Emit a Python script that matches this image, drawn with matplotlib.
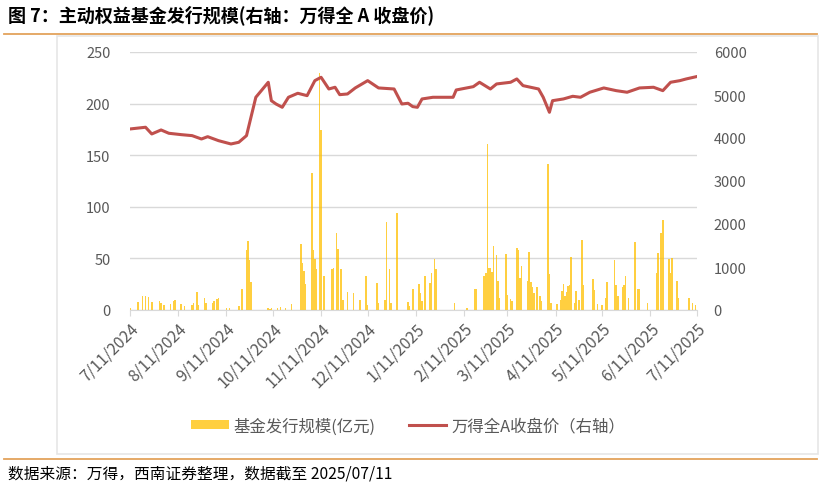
import numpy as np
import matplotlib
matplotlib.use("Agg")
import matplotlib.pyplot as plt
from matplotlib.patches import Rectangle
from matplotlib.lines import Line2D

plt.rcParams['font.family'] = ['Noto Sans CJK SC', 'DejaVu Sans']

start = np.datetime64('2024-07-11')

# 万得全A收盘价（右轴）: 距 2024-07-11 的天数, 点位
px_day = [0, 10, 14, 20, 25, 33, 40, 46, 50, 57, 65, 70, 75, 81, 89, 91, 94, 98, 102, 108,
          114, 119, 123, 128, 132, 135, 140, 145, 153, 160, 170, 175, 179, 182, 185, 188, 195,
          208, 210, 221, 225, 232, 236, 245, 249, 253, 263, 266, 270, 272, 279, 285, 290, 296,
          305, 313, 320, 328, 337, 343, 348, 354, 358, 365]
px_val = [4210, 4250, 4094, 4187, 4110, 4078, 4055, 3977, 4031, 3938, 3861, 3900, 4055, 4947,
          5296, 4868, 4791, 4714, 4947, 5040, 4985, 5334, 5412, 5140, 5180, 5008, 5024, 5164,
          5334, 5164, 5140, 4791, 4808, 4730, 4714, 4908, 4947, 4947, 5117, 5194, 5296, 5140,
          5257, 5296, 5373, 5218, 5140, 4947, 4598, 4868, 4908, 4970, 4947, 5064, 5164, 5101,
          5064, 5164, 5180, 5101, 5296, 5334, 5373, 5430]

# 基金发行规模(亿元): 距 2024-07-11 的天数, 规模
bar_day = [0, 5, 8, 10, 12, 14, 19, 20, 22, 26, 28, 29, 33, 35, 40, 41, 43, 44, 48, 49, 53, 54,
           56, 57, 62, 64, 70, 72, 75, 76, 77, 78, 89, 90, 91, 95, 97, 100, 104, 110, 111, 112,
           113, 117, 118, 119, 120, 122, 123, 125, 130, 131, 133, 134, 136, 137, 140, 144, 148,
           152, 153, 159, 160, 164, 165, 167, 168, 172, 179, 180, 182, 186, 187, 188, 190, 193,
           194, 196, 197, 209, 217, 222, 223, 228, 229, 230, 231, 232, 233, 234, 236, 237, 238,
           242, 243, 245, 246, 249, 250, 251, 252, 256, 257, 258, 259, 260, 262, 264, 265, 269,
           270, 271, 275, 277, 278, 279, 280, 281, 282, 283, 284, 286, 287, 289, 291, 292, 298,
           299, 301, 304, 306, 307, 312, 313, 314, 317, 318, 319, 321, 325, 327, 328, 333, 339,
           340, 342, 343, 347, 348, 349, 352, 353, 360, 362, 364]
bar_val = [2, 8, 14, 14, 13, 8, 9, 7, 5, 6, 9, 10, 6, 4, 5, 7, 17, 5, 12, 7, 7, 9,
           11, 12, 2, 2, 4, 20, 58, 67, 48, 27, 2, 1, 2, 2, 3, 2, 6, 64, 46, 38,
           25, 133, 58, 49, 40, 230, 174, 33, 40, 41, 75, 59, 40, 10, 17, 16, 10,
           33, 5, 26, 7, 10, 85, 40, 7, 94, 8, 4, 20, 25, 16, 9, 33, 26,
           36, 49, 40, 7, 2, 20, 20, 33, 36, 161, 41, 41, 37, 62, 53, 28, 12,
           54, 15, 11, 9, 60, 58, 31, 43, 28, 56, 27, 22, 16, 22, 14, 9, 141,
           35, 7, 6, 10, 18, 25, 14, 17, 23, 24, 51, 7, 18, 10, 68, 24, 30,
           19, 6, 5, 12, 27, 48, 24, 14, 22, 24, 33, 12, 66, 20, 20, 7, 36,
           55, 75, 87, 49, 36, 50, 28, 12, 12, 7, 5]

tick_labels = ['7/11/2024', '8/11/2024', '9/11/2024', '10/11/2024', '11/11/2024', '12/11/2024',
               '1/11/2025', '2/11/2025', '3/11/2025', '4/11/2025', '5/11/2025', '6/11/2025',
               '7/11/2025']

gray = '#595959'
grid = '#D9D9D9'
bar_color = '#FFC000'
line_color = '#C0504D'
rule = '#E3A25C'

fig = plt.figure(figsize=(8.21, 4.89), dpi=100)
W, H = 821, 489

def fx(px):
    return px / W

def fy(py):
    return 1 - py / H

# 外框 / 标题 / 分隔线
fig.add_artist(Rectangle((fx(57), fy(455)), fx(818) - fx(57), fy(37) - fy(455),
                         transform=fig.transFigure, fill=False, edgecolor='#E6E6E6', lw=1.2))
fig.add_artist(Line2D([fx(4), fx(817)], [fy(35), fy(35)], transform=fig.transFigure,
                      color=rule, lw=1.3))
fig.add_artist(Line2D([fx(4), fx(817)], [fy(460), fy(460)], transform=fig.transFigure,
                      color=rule, lw=1.3))
fig.text(fx(8), fy(15), '图 7：主动权益基金发行规模(右轴：万得全 A 收盘价)', fontsize=13,
         fontweight='bold', va='center', ha='left', color='black')
fig.text(fx(8), fy(474), '数据来源：万得，西南证券整理，数据截至 2025/07/11', fontsize=11.3,
         style='italic', va='center', ha='left', color='black')

ax = fig.add_axes([fx(130), fy(311), fx(697) - fx(130), fy(53) - fy(311)])
ax2 = ax.twinx()

bar_dates = start + np.array(bar_day).astype('timedelta64[D]')
px_dates = start + np.array(px_day).astype('timedelta64[D]')

ax.bar(bar_dates, bar_val, width=1.0, color=bar_color, alpha=0.75, linewidth=0,
       label='基金发行规模(亿元)', zorder=2)
ax2.plot(px_dates, px_val, color=line_color, lw=2.2, label='万得全A收盘价（右轴）', zorder=3)

ax.set_ylim(0, 250)
ax.set_yticks(range(0, 251, 50))
ax2.set_ylim(0, 6000)
ax2.set_yticks(range(0, 6001, 1000))
ax.set_xlim(start, np.datetime64('2025-07-11'))

tick_dates = [np.datetime64('%d-%02d-11' % (2024 + (6 + i) // 12, (6 + i) % 12 + 1)) for i in range(13)]
ax.set_xticks(tick_dates)
ax.set_xticklabels(tick_labels, rotation=45, ha='right', rotation_mode='anchor')

ax.grid(axis='y', color=grid, lw=1.0, zorder=0)
ax.set_axisbelow(True)
for a in (ax, ax2):
    for s in a.spines.values():
        s.set_visible(False)
ax.spines['bottom'].set_visible(True)
ax.spines['bottom'].set_color(grid)
ax.tick_params(axis='x', colors=gray, labelsize=11.5, length=4, color=grid, pad=3)
ax.tick_params(axis='y', colors=gray, labelsize=10.5, length=0, pad=14)
ax2.tick_params(axis='y', colors=gray, labelsize=10.5, length=0, pad=12)

h1, l1 = ax.get_legend_handles_labels()
h2, l2 = ax2.get_legend_handles_labels()
leg = fig.legend(h1 + h2, l1 + l2, loc='center', bbox_to_anchor=(fx(408), fy(427)), ncol=2,
                 frameon=False, fontsize=11.8, handlelength=2.3, handleheight=0.5,
                 columnspacing=2.0, handletextpad=0.3)
for t in leg.get_texts():
    t.set_color(gray)

fig.savefig('out.png', dpi=100)
